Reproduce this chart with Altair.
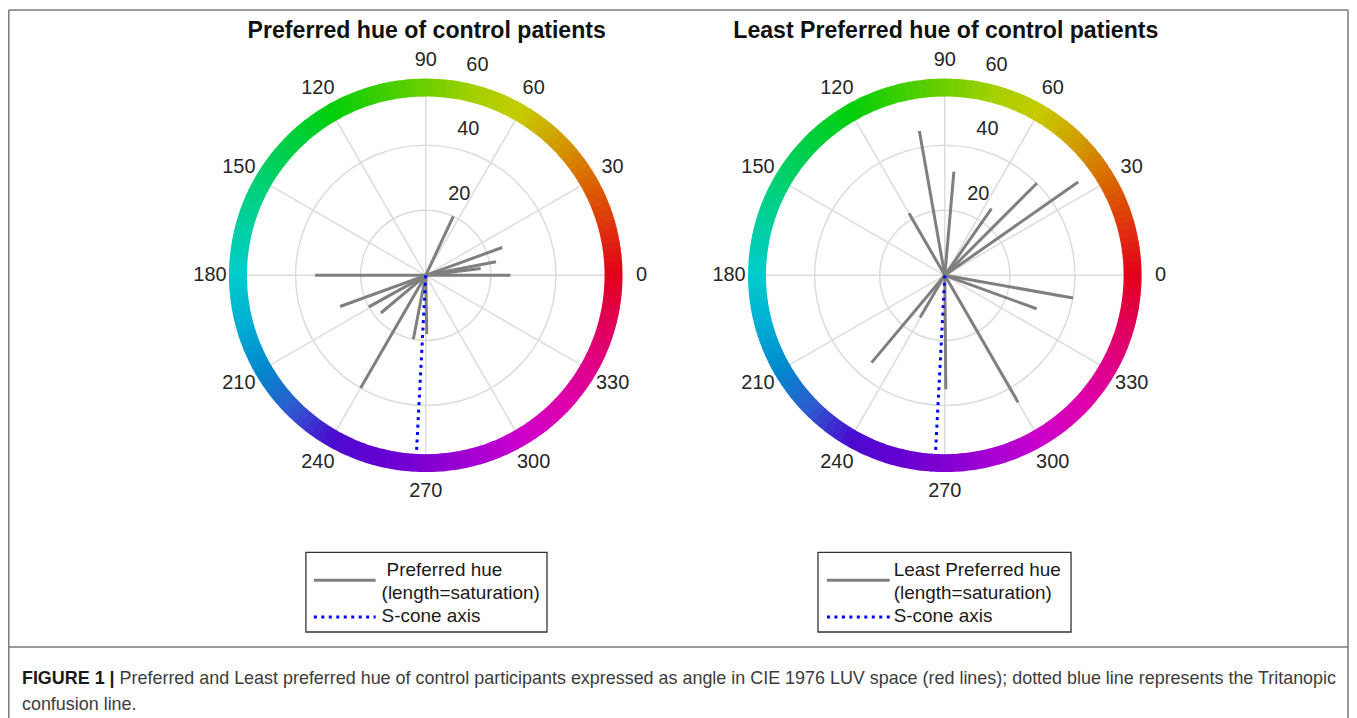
import math
import altair as alt
import pandas as pd

# ---------------- data ----------------
pref_angle = [65, 20, 11, 7, 0, 180, 200, 209, 220, 240, 259, 271]
pref_sat = [20, 25, 22, 17, 26, 34, 28, 20, 18, 40, 20, 18]

least_angle = [100, 85, 120, 55, 45, 35, 350, 340, 300, 270.5, 230, 239.5]
least_sat = [45, 32, 22, 25, 40, 50, 40, 30, 45, 35, 35, 15]

s_cone_angle = 267
s_cone_sat = 55

angle_ticks = [0, 30, 60, 90, 120, 150, 180, 210, 240, 270, 300, 330]
radial_ticks = [20, 40, 60]

hue_stops = [0, 15, 30, 45, 60, 75, 90, 105, 120, 135, 150, 165, 180,
             195, 210, 225, 240, 255, 270, 285, 300, 315, 330, 345, 360]
hue_colors = ["#e2001a", "#e0320e", "#da6600", "#d29c00", "#c6cc00", "#a4d000",
              "#6ccf00", "#38cf00", "#00cf0c", "#00cf40", "#00d070", "#00cfa2",
              "#00cccc", "#00aed4", "#0088cc", "#2f5acf", "#4a0cd0", "#6200d2",
              "#8000d2", "#a600d2", "#cc00cc", "#dc00b0", "#e0008c", "#e00058",
              "#e2001a"]

titles = ["Preferred hue of control patients", "Least Preferred hue of control patients"]
legend_lines = [[" Preferred hue", "(length=saturation)", "S-cone axis"],
                ["Least Preferred hue", "(length=saturation)", "S-cone axis"]]
caption_bold = "FIGURE 1 |"
caption_1 = ("Preferred and Least preferred hue of control participants expressed as angle in "
             "CIE 1976 LUV space (red lines); dotted blue line represents the Tritanopic")
caption_2 = "confusion line."

# ---------------- layout (page pixels) ----------------
K = 3.267            # pixels per saturation unit
CENTERS = [(427.3, 275.0), (948.3, 275.0)]
W, H = 1346, 710
FONT = "Liberation Sans"

xs = alt.Scale(domain=[8, 8 + W], nice=False, zero=False)
ys = alt.Scale(domain=[8, 8 + H], nice=False, zero=False, reverse=True)


def X(f):
    return alt.X(f"{f}:Q", scale=xs, axis=None)


def Y(f):
    return alt.Y(f"{f}:Q", scale=ys, axis=None)


def X2(f):
    return alt.X2(f"{f}:Q")


def Y2(f):
    return alt.Y2(f"{f}:Q")


def pol(c, ang, sat):
    a = math.radians(ang)
    return c[0] + sat * K * math.cos(a), c[1] - sat * K * math.sin(a)


centers_df = pd.DataFrame({"cx": [c[0] for c in CENTERS], "cy": [c[1] for c in CENTERS]})

# grid circles (one thin annulus per radial tick)
circles = []
for r in radial_ticks:
    circles.append(alt.Chart(centers_df).mark_arc(
        outerRadius=r * K + 0.75, innerRadius=r * K - 0.75,
        theta=0, theta2=2 * math.pi, color="#dcdcdc").encode(x=X("cx"), y=Y("cy")))

# spokes
sp = []
for c in CENTERS:
    for a in angle_ticks:
        x2, y2 = pol(c, a, 60)
        sp.append({"x": c[0], "y": c[1], "x2": x2, "y2": y2})
spokes = alt.Chart(pd.DataFrame(sp)).mark_rule(color="#dcdcdc", strokeWidth=1.5).encode(
    x=X("x"), y=Y("y"), x2=X2("x2"), y2=Y2("y2"))

# data lines
dl = []
for c, angs, sats in [(CENTERS[0], pref_angle, pref_sat), (CENTERS[1], least_angle, least_sat)]:
    for a, s in zip(angs, sats):
        x2, y2 = pol(c, a, s)
        dl.append({"x": c[0], "y": c[1], "x2": x2, "y2": y2, "angle": a, "sat": s})
lines = alt.Chart(pd.DataFrame(dl)).mark_rule(color="#7f7f7f", strokeWidth=3).encode(
    x=X("x"), y=Y("y"), x2=X2("x2"), y2=Y2("y2"))

# S-cone axis
sc = []
for c in CENTERS:
    x2, y2 = pol(c, s_cone_angle, s_cone_sat)
    sc.append({"x": c[0], "y": c[1], "x2": x2, "y2": y2})
scone = alt.Chart(pd.DataFrame(sc)).mark_rule(color="#0000ff", strokeWidth=3,
                                              strokeDash=[3, 4.5]).encode(
    x=X("x"), y=Y("y"), x2=X2("x2"), y2=Y2("y2"))

# hue ring
STEP = 2
rg = []
for c in CENTERS:
    for h in range(0, 360, STEP):
        rg.append({"cx": c[0], "cy": c[1], "hue": h + STEP / 2,
                   "t0": math.radians(450 - h - STEP) - 0.004,
                   "t1": math.radians(450 - h)})
ring = alt.Chart(pd.DataFrame(rg)).mark_arc(innerRadius=179.5, outerRadius=197.5).encode(
    x=X("cx"), y=Y("cy"),
    theta=alt.Theta("t0:Q", scale=None), theta2=alt.Theta2("t1:Q"),
    color=alt.Color("hue:Q", scale=alt.Scale(domain=hue_stops, range=hue_colors,
                                             interpolate="rgb"), legend=None))

# angle labels
al = []
for c in CENTERS:
    for a in angle_ticks:
        x, y = pol(c, a, 66.3)
        al.append({"x": x, "y": y, "t": str(a)})
ang_labels = alt.Chart(pd.DataFrame(al)).mark_text(
    font=FONT, fontSize=20, color="#262626", baseline="middle", align="center").encode(
    x=X("x"), y=Y("y"), text="t:N")

# radial labels
rl = []
for c in CENTERS:
    for r in radial_ticks:
        x, y = pol(c, 82, r + 1)
        rl.append({"x": x, "y": y, "t": str(r)})
rad_labels = alt.Chart(pd.DataFrame(rl)).mark_text(
    font=FONT, fontSize=20, color="#262626", baseline="bottom", align="left",
    dx=13, dy=-4).encode(x=X("x"), y=Y("y"), text="t:N")

# titles
tt = pd.DataFrame({"x": [c[0] + 1 for c in CENTERS], "y": [30, 30], "t": titles})
title_marks = alt.Chart(tt).mark_text(font=FONT, fontSize=23.2, fontWeight="bold",
                                      color="#111111", baseline="middle").encode(
    x=X("x"), y=Y("y"), text="t:N")

# legends
LEG = [dict(box=(307, 553, 549, 633), line=(315, 377), tx=[388, 383, 383]),
       dict(box=(821, 553, 1075, 633), line=(830, 893), tx=[897, 897, 897])]
LY_TEXT = [571, 594, 617]
LY_GRAY = 581
LY_BLUE = 618

boxes = pd.DataFrame([{"x": L["box"][0], "y": L["box"][1], "x2": L["box"][2], "y2": L["box"][3]}
                      for L in LEG])
leg_boxes = alt.Chart(boxes).mark_rect(filled=False, stroke="#333333", strokeWidth=1.3).encode(
    x=X("x"), y=Y("y"), x2=X2("x2"), y2=Y2("y2"))
gl = pd.DataFrame([{"x": L["line"][0], "x2": L["line"][1], "y": LY_GRAY} for L in LEG])
leg_gray = alt.Chart(gl).mark_rule(color="#7f7f7f", strokeWidth=3).encode(
    x=X("x"), x2=X2("x2"), y=Y("y"))
bl = pd.DataFrame([{"x": L["line"][0], "x2": L["line"][1], "y": LY_BLUE} for L in LEG])
leg_blue = alt.Chart(bl).mark_rule(color="#0000ff", strokeWidth=3, strokeDash=[3, 4.5]).encode(
    x=X("x"), x2=X2("x2"), y=Y("y"))
lt = []
for L, texts in zip(LEG, legend_lines):
    for x, y, t in zip(L["tx"], LY_TEXT, texts):
        lt.append({"x": x, "y": y, "t": t})
leg_text = alt.Chart(pd.DataFrame(lt)).mark_text(
    font=FONT, fontSize=19, color="#1a1a1a", align="left", baseline="middle").encode(
    x=X("x"), y=Y("y"), text="t:N")

# figure frame
fr = pd.DataFrame([
    {"x": 8.8, "x2": 1353, "y": 8.8, "y2": 8.8},
    {"x": 8.8, "x2": 8.8, "y": 8.8, "y2": 720},
    {"x": 1353, "x2": 1353, "y": 8.8, "y2": 720},
    {"x": 8.8, "x2": 1353, "y": 648, "y2": 648},
])
frame = alt.Chart(fr).mark_rule(color="#7a7a7a", strokeWidth=1.5).encode(
    x=X("x"), x2=X2("x2"), y=Y("y"), y2=Y2("y2"))

# caption
cb = pd.DataFrame([{"x": 22, "y": 680, "t": caption_bold}])
cap_b = alt.Chart(cb).mark_text(font=FONT, fontSize=18, fontWeight="bold", color="#1a1a1a",
                                align="left", baseline="middle").encode(
    x=X("x"), y=Y("y"), text="t:N")
cn = pd.DataFrame([{"x": 120, "y": 680, "t": caption_1}, {"x": 22, "y": 706, "t": caption_2}])
cap_n = alt.Chart(cn).mark_text(font=FONT, fontSize=18, color="#3c3c3c",
                                align="left", baseline="middle").encode(
    x=X("x"), y=Y("y"), text="t:N")

chart = alt.layer(
    *circles, spokes, lines, scone, ring, ang_labels, rad_labels, title_marks,
    leg_boxes, leg_gray, leg_blue, leg_text, frame, cap_b, cap_n
).properties(
    width=W, height=H,
    autosize=alt.AutoSizeParams(type="none"),
    padding=0,
).configure_view(strokeWidth=0)

chart.save("out.html", embed_options={"renderer": "svg", "actions": False})
